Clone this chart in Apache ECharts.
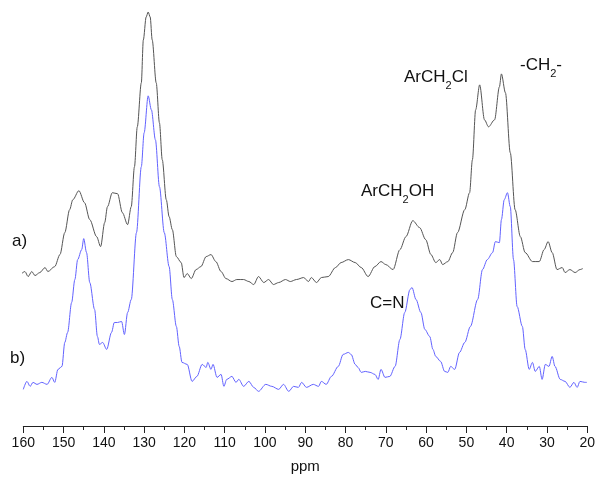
<!DOCTYPE html>
<html>
<head>
<meta charset="utf-8">
<title>13C CP/MAS NMR spectra</title>
<script src="https://cdn.jsdelivr.net/npm/echarts@6/dist/echarts.min.js"></script>
<style>
  html, body { margin: 0; padding: 0; background: #fff; }
  #chart { width: 598px; height: 479px; }
</style>
</head>
<body>
<div id="chart"></div>
<script>
// Chemical shift axis (ppm), drawn high-to-low as usual for NMR
const ppmTicks = [160, 150, 140, 130, 120, 110, 100, 90, 80, 70, 60, 50, 40, 30, 20];

// Spectrum a) - chloromethylated precursor
const ppmA = [161.1, 159.6, 158.8, 157.9, 157.1, 155.9, 154.6, 153.9, 152.2, 150.9,
  149.7, 148.5, 147.7, 146.2, 144.8, 143.5, 141.8, 140.8, 139.8, 139.1,
  137.9, 136.6, 135.4, 134.1, 133.2, 132.4, 131.7, 130.7, 130.2, 129.5,
  129.0, 128.5, 128.0, 127.0, 126.2, 125.5, 124.5, 123.8, 123.0, 122.0,
  120.8, 120.1, 119.3, 118.3, 117.1, 115.9, 114.6, 113.4, 112.2, 110.9,
  109.7, 108.2, 107.0, 105.3, 104.0, 102.8, 101.6, 100.3, 99.1, 97.9,
  96.6, 94.9, 93.7, 92.2, 90.4, 89.2, 88.5, 87.2, 86.0, 84.3,
  82.5, 81.1, 79.3, 77.6, 76.1, 74.4, 72.7, 71.2, 70.0, 68.2,
  66.5, 65.0, 63.3, 61.6, 60.1, 58.8, 57.6, 56.6, 55.9, 54.6,
  53.4, 52.2, 50.4, 49.2, 48.5, 47.7, 46.7, 45.5, 44.5, 43.0,
  41.8, 41.3, 40.3, 39.1, 37.9, 36.6, 35.4, 33.6, 31.9, 30.7,
  29.7, 28.7, 27.5, 26.2, 25.5, 24.3, 23.0, 21.8, 21.1];
const intA = [3, 8, 3, 8, 4, 7, 12, 8, 13, 25,
  47, 70, 80, 89, 77, 60, 43, 33, 57, 73,
  87, 86, 67, 55, 73, 113, 153, 197, 240, 263,
  268, 263, 240, 197, 157, 120, 80, 63, 50, 23,
  17, 2, 6, 1, 10, 13, 23, 25, 18, 8,
  1, -2, 0, 0, -2, -5, 3, -3, 0, -5,
  -3, 0, -2, 0, 2, -2, 2, -3, 2, 3,
  12, 17, 20, 17, 12, 3, 13, 18, 15, 10,
  30, 43, 59, 52, 40, 25, 17, 20, 15, 18,
  27, 47, 70, 87, 120, 170, 195, 160, 153, 160,
  193, 206, 187, 127, 70, 43, 27, 18, 18, 30,
  38, 27, 10, 12, 7, 10, 7, 10, 11];

// Spectrum b) - derivative containing C=N groups
const ppmB = [160.0, 159.1, 158.3, 157.6, 156.6, 155.4, 154.1, 152.9, 152.2, 151.4,
  150.4, 149.7, 149.0, 148.0, 147.2, 146.5, 145.5, 145.0, 144.3, 143.5,
  142.3, 141.6, 141.1, 140.3, 139.3, 138.1, 137.4, 136.6, 135.6, 134.9,
  134.1, 133.2, 131.9, 130.7, 130.0, 129.0, 128.2, 127.2, 126.2, 125.0,
  123.8, 123.0, 122.0, 121.3, 120.6, 119.3, 118.1, 116.9, 115.6, 114.6,
  114.2, 113.4, 112.9, 111.9, 110.9, 110.2, 109.5, 108.2, 107.2, 106.5,
  105.3, 104.0, 102.8, 101.6, 99.8, 98.3, 96.6, 95.4, 94.1, 92.9,
  91.7, 90.9, 89.7, 88.0, 86.7, 86.0, 84.8, 83.5, 81.8, 80.6,
  79.3, 78.6, 77.6, 76.9, 76.1, 75.1, 73.9, 72.7, 71.9, 71.2,
  70.2, 69.0, 67.7, 66.5, 65.3, 64.0, 63.5, 62.5, 61.3, 60.3,
  59.1, 58.3, 57.6, 56.4, 55.4, 54.6, 53.9, 52.9, 51.7, 50.4,
  49.0, 47.2, 46.0, 44.8, 43.5, 42.8, 41.8, 41.3, 40.6, 39.8,
  39.1, 38.3, 37.4, 36.1, 35.4, 34.4, 33.6, 32.9, 31.9, 31.2,
  30.4, 29.5, 28.7, 28.0, 26.7, 25.5, 24.3, 23.3, 22.5, 21.8,
  20.6, 20.1];
const intB = [-2, 6, 1, 5, 3, 5, 3, 10, 5, 18,
  21, 45, 55, 85, 108, 128, 138, 149, 135, 105,
  78, 51, 43, 45, 38, 55, 65, 65, 66, 53,
  75, 88, 155, 221, 255, 292, 278, 248, 201, 155,
  121, 88, 61, 41, 25, 23, 6, 11, 23, 20,
  25, 18, 23, 10, 13, 1, 8, 11, 5, 8,
  1, 6, 0, -4, 3, 1, -2, 3, -4, 1,
  0, 5, 0, 3, 1, 6, 3, 11, 21, 33,
  35, 33, 23, 20, 15, 16, 15, 13, 8, 18,
  10, 11, 21, 48, 75, 98, 100, 88, 75, 58,
  51, 38, 31, 26, 16, 15, 21, 18, 35, 45,
  61, 88, 118, 128, 135, 146, 145, 168, 188, 195,
  181, 128, 81, 61, 38, 18, 25, 16, 21, 8,
  23, 21, 31, 21, 8, 6, 0, 5, 0, 6,
  5, 5];

// Vertical stacking offsets for the two traces
const OFFSET_A = 146.7;
const OFFSET_B = 38.7;

const dataA = ppmA.map((p, i) => [p, intA[i] + OFFSET_A]);
const dataB = ppmB.map((p, i) => [p, intB[i] + OFFSET_B]);

const FONT_FAMILY = '"Liberation Sans", Arial, sans-serif';
const MAIN_FONT = '17px ' + FONT_FAMILY;
const SUB_FONT = '11px ' + FONT_FAMILY;
const TEXT_COLOR = '#111';

// Measure text so subscripts can be placed right after the preceding fragment
const measureCtx = document.createElement('canvas').getContext('2d');
function textWidth(str, font) {
  measureCtx.font = font;
  return measureCtx.measureText(str).width;
}

// Builds a chemical label such as ArCH2Cl with a lowered subscript
function chemLabel(x, yMid, parts) {
  const out = [];
  let cx = x;
  parts.forEach(([str, isSub]) => {
    const font = isSub ? SUB_FONT : MAIN_FONT;
    out.push({
      type: 'text',
      x: cx,
      y: isSub ? yMid + 9 : yMid,
      z: 10,
      style: { text: str, font: font, fill: TEXT_COLOR, align: 'left', verticalAlign: 'middle' }
    });
    cx += textWidth(str, font);
  });
  return out;
}

const chart = echarts.init(document.getElementById('chart'), null, { renderer: 'canvas' });

chart.setOption({
  animation: false,
  backgroundColor: '#fff',
  grid: { left: 23.3, right: 7.7, top: 10, bottom: 52.3 },
  xAxis: {
    type: 'value',
    inverse: true,
    min: 20,
    max: 160,
    interval: 10,
    name: 'ppm',
    nameLocation: 'middle',
    nameGap: 33,
    nameTextStyle: { fontSize: 15, fontFamily: FONT_FAMILY, color: TEXT_COLOR },
    axisLine: { show: true, lineStyle: { color: '#222', width: 1 } },
    axisTick: { show: true, inside: false, length: 7, lineStyle: { color: '#222', width: 1 } },
    minorTick: { show: true, splitNumber: 2, length: 4, lineStyle: { color: '#222', width: 1 } },
    axisLabel: {
      margin: 10,
      fontSize: 14,
      fontFamily: FONT_FAMILY,
      color: TEXT_COLOR,
      showMinLabel: true,
      showMaxLabel: true,
      formatter: v => (ppmTicks.includes(v) ? String(v) : '')
    },
    splitLine: { show: false }
  },
  yAxis: {
    type: 'value',
    min: 0,
    max: 416.7,
    show: false,
    splitLine: { show: false }
  },
  series: [
    {
      name: 'a)',
      type: 'line',
      data: dataA,
      showSymbol: false,
      clip: false,
      smooth: 0.3,
      smoothMonotone: 'x',
      lineStyle: { color: '#555555', width: 1 }
    },
    {
      name: 'b)',
      type: 'line',
      data: dataB,
      showSymbol: false,
      clip: false,
      smooth: 0.3,
      smoothMonotone: 'x',
      lineStyle: { color: '#6262ff', width: 1 }
    }
  ],
  graphic: [
    { type: 'text', x: 12, y: 241, z: 10,
      style: { text: 'a)', font: MAIN_FONT, fill: TEXT_COLOR, align: 'left', verticalAlign: 'middle' } },
    { type: 'text', x: 10, y: 358, z: 10,
      style: { text: 'b)', font: MAIN_FONT, fill: TEXT_COLOR, align: 'left', verticalAlign: 'middle' } },
    ...chemLabel(404, 77, [['ArCH', false], ['2', true], ['Cl', false]]),
    ...chemLabel(520, 65, [['-CH', false], ['2', true], ['-', false]]),
    ...chemLabel(361, 191, [['ArCH', false], ['2', true], ['OH', false]]),
    { type: 'text', x: 370, y: 303, z: 10,
      style: { text: 'C=N', font: MAIN_FONT, fill: TEXT_COLOR, align: 'left', verticalAlign: 'middle' } }
  ]
});
</script>
</body>
</html>
